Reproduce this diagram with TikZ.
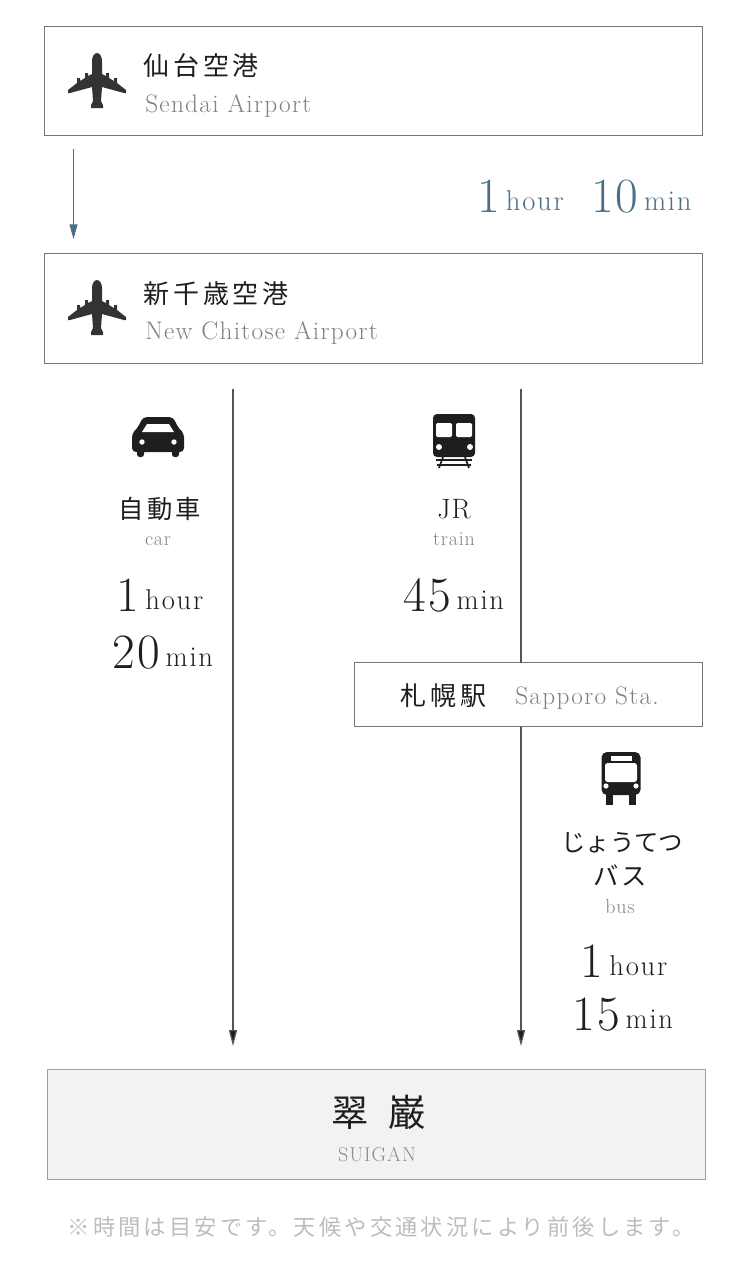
\documentclass[tikz,border=0pt]{standalone}
\usepackage{fontspec}
\usetikzlibrary{arrows.meta}
\newfontfamily\jpfont[LetterSpace=12]{Noto Sans CJK JP}
\newfontfamily\jpwide[LetterSpace=15]{Noto Sans CJK JP}
\newfontfamily\jpkana{Noto Sans CJK JP}
\newfontfamily\jpnote[LetterSpace=14]{Noto Sans CJK JP}
\newfontfamily\enfont{Latin Modern Roman}
\definecolor{boxgray}{HTML}{757575}
\definecolor{linegray}{HTML}{555555}
\definecolor{subgray}{HTML}{808080}
\definecolor{notegray}{HTML}{BDBDBD}
\definecolor{timeblue}{HTML}{4A7088}
\definecolor{inkdark}{HTML}{1E1E1E}
\def\timetext#1#2{\enfont{\fontsize{37}{37}\selectfont\addfontfeature{LetterSpace=3}#1}\hspace{4.5pt}\raisebox{1.5pt}{\fontsize{21.5}{22}\selectfont\addfontfeature{LetterSpace=6}#2}}
\def\jpsize#1{\jpfont\fontsize{#1}{#1}\selectfont}
\def\widesize#1{\jpwide\fontsize{#1}{#1}\selectfont}
\def\ensize#1#2{\enfont\fontsize{#1}{#1}\selectfont\addfontfeature{LetterSpace=#2}}
\tikzset{
    framebox/.style={draw=boxgray,line width=.8pt,inner sep=0pt,outer sep=0pt},
    jpname/.style={inner sep=0pt,text=inkdark,font=\widesize{19.5}},
    jpshort/.style={inner sep=0pt,text=inkdark,font=\jpsize{19}},
    enname/.style={inner sep=0pt,text=subgray,font=\ensize{19}{5}},
    smallname/.style={inner sep=0pt,text=subgray,font=\ensize{15}{4}},
    timelabel/.style={inner sep=0pt,text=inkdark,anchor=base},
    route/.style={draw=linegray,line width=.9pt,-{Triangle[width=6pt,length=12pt,fill=inkdark]}},
    routeplain/.style={draw=linegray,line width=.9pt},
    planeicon/.pic={
        \foreach \s in {1,-1}
            \fill[fill=#1,xscale=\s] (0,-28) .. controls (3,-28) and (5,-24) .. (5,-20) -- (5,-7) -- (9,-5) -- (9,-8) -- (12,-8) -- (12,-3)
                -- (17,0) -- (17,-3) -- (20,-3) -- (20,2) -- (29,9) -- (29,12) -- (27,12) -- (5,6) -- (4,20) -- (6,24) -- (6,27) -- (0,27) -- cycle;
    },
    caricon/.pic={
        \fill[inkdark,rounded corners=3pt] (0,-20) -- (15,-20) -- (21,-8) -- (26,-4) -- (26,15) -- (-26,15) -- (-26,-4) -- (-21,-8) -- (-15,-20) -- cycle;
        \fill[inkdark,rounded corners=2pt] (-21,10) rectangle (-14,20);
        \fill[inkdark,rounded corners=2pt] (14,10) rectangle (21,20);
        \fill[white] (-11,-13) -- (11,-13) -- (16,-5) -- (-16,-5) -- cycle;
        \fill[white] (-16,5) circle [radius=2.7];
        \fill[white] (16,5) circle [radius=2.7];
    },
    trainicon/.pic={
        \fill[inkdark,rounded corners=3pt] (-21,-22) rectangle (21,21);
        \fill[white,rounded corners=1pt] (-18,-13) rectangle (-2,1);
        \fill[white,rounded corners=1pt] (2,-13) rectangle (18,1);
        \fill[white] (-15,11) circle [radius=3];
        \fill[white] (16,11) circle [radius=3];
        \draw[inkdark,line width=1.3pt] (-11,21) -- (-15,32);
        \draw[inkdark,line width=1.3pt] (11,21) -- (15,32);
        \draw[inkdark,line width=1.1pt] (-18,24) -- (18,24);
        \draw[inkdark,line width=1.1pt] (-17,29) -- (17,29);
    },
    busicon/.pic={
        \fill[inkdark,rounded corners=4pt] (-19.5,-26) rectangle (19.5,17);
        \fill[inkdark] (-15,12) rectangle (-8,27);
        \fill[inkdark] (8,12) rectangle (15,27);
        \fill[white] (-10,-22) rectangle (11,-17);
        \fill[white,rounded corners=2pt] (-16,-15) rectangle (16,4);
        \fill[white] (-15,8) circle [radius=2.6];
        \fill[white] (15,8) circle [radius=2.6];
    }
}

\begin{document}
\begin{tikzpicture}[x=.75pt,y=-.75pt]
    \useasboundingbox (0,0) rectangle (750,1268);

    % boxes
    \node[framebox,minimum width=493.5pt,minimum height=81.75pt] (sendai) at (373.5,81) {};
    \node[framebox,minimum width=493.5pt,minimum height=82.5pt] (chitose) at (373.5,308.5) {};
    \node[framebox,minimum width=261pt,minimum height=48pt] (sapporo) at (528.5,694.5) {};
    \node[framebox,draw=boxgray!70,fill=black!5,minimum width=493.5pt,minimum height=82.5pt] (suigan) at (376.5,1124.5) {};

    % connectors
    \coordinate (flighttop) at (73.5,149);
    \coordinate (flightend) at (73.5,239);
    \coordinate (cartop) at (233,389);
    \coordinate (carend) at (233,1046);
    \coordinate (jrtop) at (521,389);
    \coordinate (jrend) at (521,1046);
    \draw[line width=.75pt,draw=timeblue,-{Triangle[width=6pt,length=11pt,fill=timeblue]}] (flighttop) -- (flightend);
    \draw[route] (cartop) -- (carend);
    \draw[routeplain] (jrtop) -- (jrtop |- sapporo.north);
    \draw[route] (jrtop |- sapporo.south) -- (jrend);

    % airports
    \pic at (97,81) {planeicon={black!80}};
    \node[jpname,anchor=base west] (sendaijp) at (143,75) {仙台空港};
    \node[enname,anchor=base west] (sendaien) at (145,112) {Sendai Airport};
    \node[timelabel,text=timeblue,anchor=base west] (flighthour) at (477,212) {\timetext{1}{hour}};
    \node[timelabel,text=timeblue,anchor=base west] (flightmin) at (591,212) {\timetext{10}{min}};
    \pic at (97,308) {planeicon={black!80}};
    \node[jpname,anchor=base west] (chitosejp) at (143,303) {新千歳空港};
    \node[enname,anchor=base west] (chitoseen) at (145,339) {New Chitose Airport};

    % car
    \pic at (158,437) {caricon};
    \node[jpshort,anchor=base] (carjp) at (160,518) {自動車};
    \node[smallname,anchor=base] (caren) at (158,545) {car};
    \node[timelabel] (carhour) at (160,611) {\timetext{1}{hour}};
    \node[timelabel] (carmin) at (163,668) {\timetext{20}{min}};

    % train
    \pic at (454,436) {trainicon};
    \node[inner sep=0pt,text=inkdark,font=\ensize{21}{4},anchor=base] (jrname) at (454,518) {JR};
    \node[smallname,anchor=base] (jren) at (454,545) {train};
    \node[timelabel] (jrmin) at (454,611) {\timetext{45}{min}};

    % sapporo
    \node[jpname,anchor=base west] (sapporojp) at (400,705) {札幌駅};
    \node[enname,anchor=base west] (sapporoen) at (515,704) {Sapporo Sta.};

    % bus
    \pic at (621,778) {busicon};
    \node[inner sep=0pt,text=inkdark,font=\jpkana\fontsize{18.3}{19}\selectfont,anchor=base] (busjp) at (622,851) {じょうてつ};
    \node[jpshort,anchor=base] (busjpb) at (620,885) {バス};
    \node[smallname,anchor=base] (busen) at (620,913) {bus};
    \node[timelabel] (bushour) at (624,977) {\timetext{1}{hour}};
    \node[timelabel] (busmin) at (623,1030) {\timetext{15}{min}};

    % destination
    \node[inner sep=0pt,text=inkdark,font=\jpsize{28},anchor=base] (suiganjp) at (378.5,1126) {翠\hspace{15pt}巌};
    \node[inner sep=0pt,text=black!45,font=\ensize{15}{5},anchor=base] (suiganen) at (377,1161) {SUIGAN};

    \node[inner sep=0pt,text=notegray,font=\jpnote\fontsize{16.7}{17}\selectfont,anchor=base] (note) at (381,1235) {※時間は目安です。天候や交通状況により前後します。};
\end{tikzpicture}
\end{document}
